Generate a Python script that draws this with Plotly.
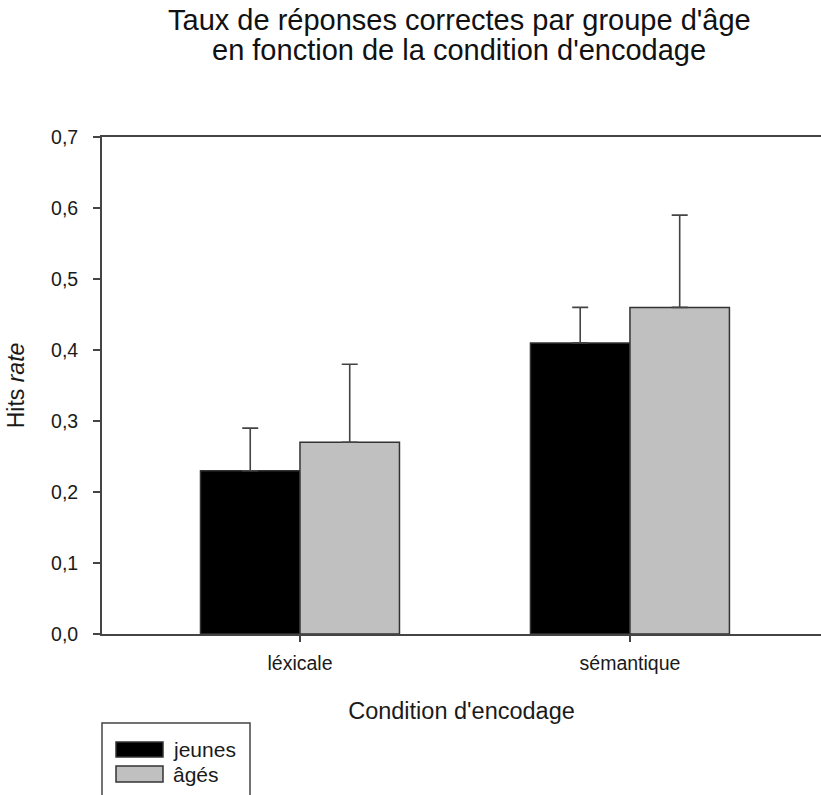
import plotly.graph_objects as go

# ---- data ----
categories = ["léxicale", "sémantique"]
series_names = ["jeunes", "âgés"]
jeunes_values = [0.23, 0.41]
jeunes_err = [0.06, 0.05]
ages_values = [0.27, 0.46]
ages_err = [0.11, 0.13]
y_ticks = [0.0, 0.1, 0.2, 0.3, 0.4, 0.5, 0.6, 0.7]
title_lines = ["Taux de réponses correctes par groupe d'âge",
               "en fonction de la condition d'encodage"]

colors = ["#000000", "#c0c0c0"]
W, H = 821, 795
ML, MR, MT, MB = 102, 0, 137, 161
FONT = "Arial, Liberation Sans, sans-serif"

fig = go.Figure()
for name, vals, errs, col in [(series_names[0], jeunes_values, jeunes_err, colors[0]),
                              (series_names[1], ages_values, ages_err, colors[1])]:
    fig.add_trace(go.Bar(
        name=name, x=categories, y=vals,
        marker=dict(color=col, line=dict(color="#333333", width=1.5)),
        error_y=dict(type="data", array=errs, arrayminus=[0] * len(errs), symmetric=False,
                     color="#444444", thickness=1.6, width=8),
        showlegend=False,
    ))

# helpers: page pixel -> paper coords
pw = W - ML - MR
ph = H - MT - MB
def px_x(px):
    return (px - ML) / pw
def px_y(py):
    return (H - MB - py) / ph

shapes = [dict(type="rect", xref="paper", yref="paper",
               x0=px_x(102), x1=px_x(250), y0=px_y(840), y1=px_y(723),
               line=dict(color="#444444", width=1.5), fillcolor="rgba(0,0,0,0)")]
annotations = []
sw_y = [(742, 757), (766, 782)]
for i, name in enumerate(series_names):
    y0p, y1p = sw_y[i]
    shapes.append(dict(type="rect", xref="paper", yref="paper",
                       x0=px_x(116), x1=px_x(163), y0=px_y(y1p), y1=px_y(y0p),
                       line=dict(color="#333333", width=1.5), fillcolor=colors[i]))
    annotations.append(dict(xref="paper", yref="paper", x=px_x(171), y=px_y((y0p + y1p) / 2),
                            text=name, showarrow=False, xanchor="left", yanchor="middle",
                            font=dict(family=FONT, size=21, color="#1a1a1a")))

for line, yc in zip(title_lines, [19.5, 50]):
    annotations.append(dict(xref="paper", yref="paper", x=px_x(459), y=px_y(yc),
                            text=line, showarrow=False, xanchor="center", yanchor="middle",
                            font=dict(family=FONT, size=29, color="#111111")))

fig.update_layout(
    width=W, height=H,
    margin=dict(l=ML, r=MR, t=MT, b=MB, pad=0),
    paper_bgcolor="white", plot_bgcolor="white",
    separators=", ",
    barmode="group", bargap=0.397, bargroupgap=0,
    font=dict(family=FONT, color="#1a1a1a"),
    shapes=shapes, annotations=annotations,
)
fig.update_xaxes(
    range=[-0.6, 1.579],
    showline=True, linecolor="#444444", linewidth=1.8, mirror=True,
    ticks="outside", ticklen=6, tickcolor="#444444", tickwidth=1.5,
    tickfont=dict(family=FONT, size=19.5, color="#1a1a1a"),
    ticklabelstandoff=5,
    showgrid=False, zeroline=False,
    title=dict(text="Condition d'encodage", standoff=29,
               font=dict(family=FONT, size=23.5, color="#1a1a1a")),
)
fig.update_yaxes(
    range=[0, 0.7], tickvals=y_ticks, tickformat=".1f",
    showline=True, linecolor="#444444", linewidth=1.8, mirror=False,
    ticks="outside", ticklen=7, tickcolor="#444444", tickwidth=1.5,
    tickfont=dict(family=FONT, size=19.5, color="#1a1a1a"),
    ticklabelstandoff=11,
    showgrid=False, zeroline=False,
    title=dict(text="Hits <i>rate</i>", standoff=20,
               font=dict(family=FONT, size=23, color="#1a1a1a")),
)

# remove the browser's default 8px page margin so the figure sits at the window origin
fig.write_html("out.html",
               config={"displayModeBar": False},
               post_script="document.body.style.margin='0';document.body.style.overflow='hidden';")
